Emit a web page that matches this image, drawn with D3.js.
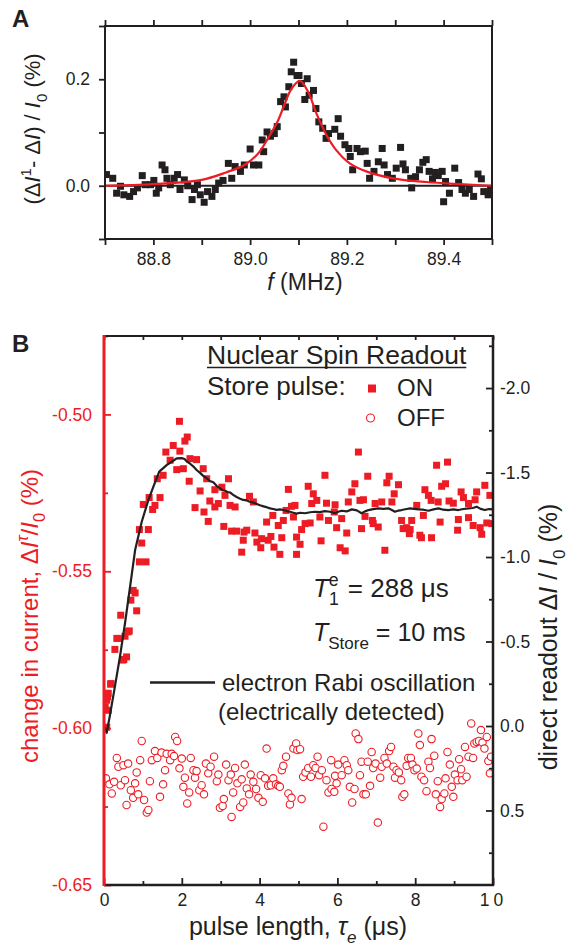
<!DOCTYPE html>
<html>
<head>
<meta charset="utf-8">
<script src="https://cdn.jsdelivr.net/npm/d3@7"></script>
<style>
body{margin:0;background:#fff;}
svg text{font-family:"Liberation Sans",Arial,Helvetica,sans-serif;fill:#231f20;}
.axis .domain{display:none;}
</style>
</head>
<body>
<div id="chart"></div>
<script>
// ---- panel A: ESR-detected NMR line, f (MHz) vs signal (%)
var nmrPoints = [
[88.703,0.021],[88.716,0.014],[88.724,-0.014],[88.732,-0.001],[88.739,-0.017],[88.751,-0.020],[88.759,-0.011],[88.767,-0.004],
[88.777,0.019],[88.783,0.002],[88.794,0.002],[88.801,0.010],[88.806,-0.014],[88.811,-0.004],[88.818,0.039],[88.824,0.030],
[88.828,0.014],[88.835,0.002],[88.843,0.014],[88.850,0.021],[88.855,-0.007],[88.864,0.011],[88.871,0.000],[88.880,-0.026],
[88.885,-0.007],[88.891,0.002],[88.897,-0.017],[88.905,-0.031],[88.912,-0.011],[88.921,-0.020],[88.928,-0.007],[88.935,0.005],
[88.944,0.010],[88.955,0.042],[88.962,0.014],[88.969,0.036],[88.980,0.027],[88.988,0.039],[89.000,0.069],[89.007,0.039],
[89.018,0.039],[89.025,0.086],[89.028,0.064],[89.035,0.101],[89.042,0.093],[89.050,0.098],[89.056,0.111],[89.063,0.158],
[89.070,0.167],[89.073,0.148],[89.080,0.186],[89.085,0.214],[89.090,0.232],[89.097,0.207],[89.101,0.207],[89.106,0.192],
[89.118,0.201],[89.113,0.162],[89.122,0.170],[89.131,0.179],[89.136,0.145],[89.142,0.120],[89.150,0.108],[89.157,0.089],
[89.162,0.098],[89.175,0.106],[89.182,0.126],[89.187,0.093],[89.196,0.077],[89.204,0.070],[89.207,0.055],[89.221,0.070],
[89.228,0.064],[89.238,0.065],[89.212,0.030],[89.242,0.042],[89.247,0.014],[89.256,0.027],[89.265,0.045],[89.273,0.070],
[89.277,0.039],[89.284,0.021],[89.294,0.014],[89.302,0.033],[89.311,0.072],[89.316,0.041],[89.321,0.030],[89.332,0.014],
[89.334,-0.004],[89.342,0.017],[89.350,0.030],[89.357,0.044],[89.364,0.049],[89.370,0.027],[89.377,0.013],[89.383,0.025],
[89.389,0.019],[89.397,0.027],[89.404,0.008],[89.412,-0.014],[89.400,-0.030],[89.423,0.033],[89.431,0.006],[89.438,-0.007],
[89.445,-0.014],[89.453,-0.007],[89.462,-0.020],[89.471,0.022],[89.478,0.013],[89.483,-0.011],[89.492,-0.017],[89.497,-0.007]
];
// red fit curve
var nmrFit = [
[88.70,0.000],[88.80,0.003],[88.90,0.011],[88.95,0.025],[88.99,0.040],[89.017,0.061],[89.037,0.089],[89.058,0.123],
[89.072,0.155],[89.086,0.183],[89.103,0.197],[89.120,0.176],[89.137,0.136],[89.158,0.095],[89.178,0.067],[89.206,0.042],
[89.240,0.027],[89.295,0.014],[89.364,0.007],[89.433,0.003],[89.500,0.000]
];
var aXTicks = [88.8, 89.0, 89.2, 89.4];
var aXMinor = [88.7, 88.9, 89.1, 89.3, 89.5];
var aYTicks = [0.0, 0.2];
var aYMinor = [-0.1, 0.1, 0.3];

// ---- panel B: nuclear spin readout vs pulse length (us)
// store pulse ON, left axis (%)
var storeOn = [
[1.94,-0.5022],[2.14,-0.5072],[2.08,-0.5085],[1.78,-0.5099],[1.59,-0.5120],[1.95,-0.5117],[1.70,-0.5146],[1.87,-0.5176],
[2.04,-0.5173],[2.21,-0.5141],[2.38,-0.5144],[2.55,-0.5173],[1.52,-0.5194],[1.37,-0.5205],[2.19,-0.5213],[2.64,-0.5205],
[3.20,-0.5205],[2.47,-0.5244],[2.85,-0.5240],[3.03,-0.5232],[3.11,-0.5258],[4.74,-0.5239],[1.44,-0.5265],[1.16,-0.5265],
[1.01,-0.5287],[1.31,-0.5290],[1.25,-0.5303],[2.34,-0.5297],[2.72,-0.5276],[2.85,-0.5295],[2.94,-0.5284],[2.57,-0.5311],
[2.68,-0.5341],[3.24,-0.5290],[3.37,-0.5295],[3.74,-0.5261],[3.84,-0.5279],[4.18,-0.5343],[4.34,-0.5322],[4.48,-0.5354],
[4.61,-0.5338],[4.82,-0.5293],[4.68,-0.5306],[4.87,-0.5327],[3.08,-0.5357],[3.28,-0.5372],[3.41,-0.5372],[3.60,-0.5375],
[3.67,-0.5369],[3.88,-0.5378],[3.58,-0.5401],[3.93,-0.5407],[4.05,-0.5396],[4.29,-0.5389],[4.22,-0.5401],[4.57,-0.5393],
[4.03,-0.5425],[4.37,-0.5423],[4.52,-0.5446],[3.54,-0.5439],[4.95,-0.5446],[4.95,-0.5391],[1.14,-0.5367],[0.91,-0.5367],
[0.97,-0.5410],[0.91,-0.5470],[1.08,-0.5470],[0.75,-0.5561],[0.80,-0.5569],[0.69,-0.5592],[0.84,-0.5626],[0.43,-0.5640],
[0.65,-0.5690],[0.54,-0.5707],[0.37,-0.5714],[0.28,-0.5749],[0.58,-0.5773],[0.48,-0.5783],[0.17,-0.5860],[0.05,-0.5889],
[0.09,-0.5900],[0.03,-0.5932],[0.11,-0.5943],[0.07,-0.5997],[0.62,-0.5693],[0.33,-0.5714],[0.51,-0.5781],[0.18,-0.5858],
[0.11,-0.5889],[0.07,-0.5911],
[6.54,-0.5120],[8.55,-0.5162],[8.83,-0.5152],[5.68,-0.5194],[6.78,-0.5197],[7.33,-0.5197],[5.25,-0.5229],[6.45,-0.5221],
[6.37,-0.5247],[7.27,-0.5218],[7.57,-0.5224],[8.68,-0.5229],[8.78,-0.5221],[9.79,-0.5226],[5.38,-0.5253],[5.47,-0.5274],
[5.34,-0.5284],[5.72,-0.5283],[5.94,-0.5288],[6.28,-0.5279],[6.58,-0.5274],[6.67,-0.5272],[6.97,-0.5284],[7.14,-0.5279],
[7.40,-0.5279],[7.46,-0.5253],[8.25,-0.5240],[8.34,-0.5258],[8.41,-0.5274],[8.59,-0.5279],[8.87,-0.5276],[8.98,-0.5283],
[9.18,-0.5247],[9.24,-0.5265],[9.37,-0.5284],[9.58,-0.5247],[9.54,-0.5272],[9.92,-0.5258],[4.91,-0.5290],[5.92,-0.5311],
[8.04,-0.5290],[8.21,-0.5322],[5.55,-0.5327],[5.77,-0.5338],[5.30,-0.5346],[6.11,-0.5332],[6.71,-0.5325],[6.90,-0.5338],
[6.92,-0.5348],[7.65,-0.5338],[7.91,-0.5338],[7.78,-0.5361],[7.69,-0.5364],[7.87,-0.5367],[8.64,-0.5343],[9.11,-0.5335],
[9.37,-0.5329],[9.84,-0.5346],[9.49,-0.5354],[9.67,-0.5361],[5.17,-0.5348],[5.08,-0.5367],[5.98,-0.5361],[6.62,-0.5364],
[7.05,-0.5359],[6.24,-0.5378],[7.85,-0.5380],[8.12,-0.5385],[8.16,-0.5393],[8.42,-0.5393],[9.09,-0.5369],[9.71,-0.5382],
[5.04,-0.5414],[5.58,-0.5403],[6.07,-0.5425],[6.20,-0.5435],[7.22,-0.5433],[9.97,-0.5348]
];
// store pulse OFF, left axis (%)
var storeOff = [
[0.05,-0.6160],[0.14,-0.6179],[0.20,-0.6208],[0.26,-0.6171],[0.33,-0.6095],[0.37,-0.6123],[0.43,-0.6182],[0.50,-0.6118],
[0.54,-0.6166],[0.62,-0.6113],[0.58,-0.6245],[0.69,-0.6198],[0.75,-0.6222],[0.80,-0.6176],[0.84,-0.6141],[0.88,-0.6211],
[0.93,-0.6102],[0.97,-0.6041],[1.03,-0.6229],[1.10,-0.6269],[1.14,-0.6261],[1.18,-0.6169],[1.23,-0.6102],[1.31,-0.6073],
[1.37,-0.6095],[1.44,-0.6219],[1.48,-0.6078],[1.52,-0.6179],[1.57,-0.6134],[1.61,-0.6082],[1.70,-0.6102],[1.74,-0.6082],
[1.80,-0.6089],[1.83,-0.6028],[1.88,-0.6041],[1.94,-0.6128],[2.00,-0.6097],[2.04,-0.6187],[2.08,-0.6158],[2.14,-0.6240],
[2.19,-0.6205],[2.23,-0.6095],[2.30,-0.6134],[2.34,-0.6158],[2.38,-0.6137],[2.45,-0.6198],[2.51,-0.6182],[2.57,-0.6211],
[2.62,-0.6113],[2.68,-0.6144],[2.74,-0.6123],[2.83,-0.6091],[2.90,-0.6169],[2.94,-0.6148],[2.98,-0.6254],[3.05,-0.6248],
[3.08,-0.6226],[3.14,-0.6116],[3.20,-0.6166],[3.26,-0.6148],[3.28,-0.6283],[3.32,-0.6205],[3.37,-0.6127],[3.43,-0.6176],
[3.50,-0.6251],[3.54,-0.6163],[3.58,-0.6237],[3.62,-0.6116],[3.67,-0.6192],[3.73,-0.6211],[3.77,-0.6148],[3.84,-0.6171],
[3.91,-0.6194],[3.97,-0.6222],[4.03,-0.6150],[4.08,-0.6235],[4.14,-0.6160],[4.18,-0.6065],[4.22,-0.6184],[4.29,-0.6182],
[4.35,-0.6160],[4.42,-0.6179],[4.48,-0.6184],[4.52,-0.6187],[4.57,-0.6134],[4.61,-0.6120],[4.68,-0.6091],[4.74,-0.6208],
[4.78,-0.6243],[4.82,-0.6222],[4.87,-0.6065],[4.94,-0.6049],[4.97,-0.6070],
[5.04,-0.6067],[5.08,-0.6226],[5.12,-0.6155],[5.18,-0.6141],[5.25,-0.6127],[5.32,-0.6155],[5.38,-0.6118],[5.44,-0.6127],
[5.49,-0.6091],[5.53,-0.6150],[5.60,-0.6134],[5.64,-0.6314],[5.72,-0.6166],[5.77,-0.6205],[5.84,-0.6102],[5.85,-0.6194],
[5.92,-0.6203],[5.94,-0.6152],[5.98,-0.6176],[6.02,-0.6116],[6.11,-0.6150],[6.18,-0.6102],[6.24,-0.6118],[6.28,-0.6134],
[6.32,-0.6187],[6.38,-0.6237],[6.44,-0.6194],[6.47,-0.6017],[6.54,-0.6035],[6.58,-0.6150],[6.62,-0.6107],[6.67,-0.6211],
[6.73,-0.6211],[6.78,-0.6107],[6.84,-0.6184],[6.88,-0.6076],[6.92,-0.6127],[6.98,-0.6113],[7.04,-0.6301],[7.10,-0.6158],
[7.14,-0.6123],[7.21,-0.6095],[7.27,-0.6113],[7.33,-0.6073],[7.38,-0.6060],[7.44,-0.6123],[7.48,-0.6158],[7.52,-0.6134],
[7.58,-0.6141],[7.64,-0.6166],[7.67,-0.6219],[7.72,-0.6211],[7.78,-0.6120],[7.82,-0.6095],[7.89,-0.6095],[7.93,-0.6116],
[7.98,-0.6134],[8.04,-0.6129],[8.08,-0.6017],[8.12,-0.6054],[8.16,-0.6155],[8.23,-0.6166],[8.29,-0.6201],[8.34,-0.6107],
[8.38,-0.6127],[8.42,-0.6035],[8.49,-0.6088],[8.53,-0.6211],[8.58,-0.6169],[8.64,-0.6251],[8.68,-0.6226],[8.75,-0.6208],
[8.78,-0.6160],[8.83,-0.6076],[8.89,-0.6116],[8.94,-0.6187],[8.98,-0.6219],[9.02,-0.6148],[9.09,-0.6166],[9.13,-0.6099],
[9.18,-0.6131],[9.21,-0.6166],[9.28,-0.6060],[9.32,-0.6155],[9.37,-0.6091],[9.44,-0.5985],[9.49,-0.6095],[9.52,-0.6049],
[9.58,-0.6044],[9.64,-0.6041],[9.69,-0.6006],[9.73,-0.6046],[9.78,-0.6065],[9.84,-0.6028],[9.88,-0.6105],[9.92,-0.6144],
[9.95,-0.6091]
];
// electron Rabi oscillation, right axis (%)
var rabiLine = [
[0.00,0.000],[0.07,0.040],[0.15,-0.060],[0.28,-0.233],[0.41,-0.410],[0.54,-0.608],[0.67,-0.824],[0.80,-1.041],
[0.97,-1.209],[1.14,-1.337],[1.27,-1.416],[1.42,-1.505],[1.61,-1.544],[1.74,-1.564],[1.87,-1.584],
[2.00,-1.585],[2.07,-1.580],[2.13,-1.565],[2.20,-1.555],[2.30,-1.535],[2.38,-1.515],[2.47,-1.498],[2.55,-1.480],
[2.64,-1.466],[2.72,-1.450],[2.81,-1.442],[2.90,-1.420],[2.98,-1.408],[3.05,-1.395],[3.11,-1.392],[3.18,-1.385],
[3.24,-1.382],[3.32,-1.368],[3.41,-1.355],[3.50,-1.345],[3.58,-1.338],[3.67,-1.335],[3.75,-1.327],[3.84,-1.322],
[3.93,-1.314],[4.01,-1.306],[4.10,-1.300],[4.18,-1.295],[4.27,-1.288],[4.35,-1.284],[4.44,-1.279],[4.52,-1.282],
[4.61,-1.278],[4.70,-1.272],[4.78,-1.268],[4.87,-1.262],[4.95,-1.257],[5.04,-1.262],[5.17,-1.259],[5.30,-1.265],
[5.42,-1.268],[5.55,-1.266],[5.68,-1.272],[5.81,-1.268],[5.94,-1.259],[6.02,-1.268],[6.11,-1.274],[6.24,-1.270],
[6.37,-1.282],[6.50,-1.276],[6.62,-1.259],[6.71,-1.270],[6.80,-1.278],[6.92,-1.283],[7.05,-1.288],[7.18,-1.285],
[7.31,-1.288],[7.40,-1.278],[7.48,-1.268],[7.57,-1.275],[7.65,-1.278],[7.78,-1.284],[7.87,-1.288],[7.97,-1.285],
[8.08,-1.282],[8.21,-1.280],[8.34,-1.274],[8.47,-1.282],[8.60,-1.288],[8.72,-1.280],[8.85,-1.278],[8.98,-1.282],
[9.11,-1.278],[9.24,-1.284],[9.37,-1.288],[9.48,-1.290],[9.58,-1.298],[9.68,-1.285],[9.79,-1.278],[9.90,-1.284],
[10.0,-1.282]
];
var bXTicks = [0, 2, 4, 6, 8, 10];
var bXMinor = [1, 3, 5, 7, 9];
var bLeftTicks = [-0.65, -0.60, -0.55, -0.50];
var bLeftMinor = [-0.625, -0.575, -0.525, -0.475];
var bRightTicks = [-2.0, -1.5, -1.0, -0.5, 0.0, 0.5];
var bRightMinor = [-2.25, -1.75, -1.25, -0.75, -0.25, 0.25, 0.75];

var red = "#ed1c24", ink = "#231f20";
var tickFont = 17.5, bigFont = 25;

var svg = d3.select("#chart").append("svg")
  .attr("width", 570).attr("height", 948);

// rich text helper: parts = [{t, it, sub, sup}]
function richText(sel, parts, fs) {
  var shift = 0;
  parts.forEach(function(p){
    var ts = sel.append("tspan").text(p.t);
    var target = p.sub ? 0.3*fs : (p.sup ? -0.42*fs : 0);
    if (target !== shift) ts.attr("dy", target - shift);
    shift = target;
    if (p.sub || p.sup) ts.attr("font-size", fs*0.68);
    if (p.it) ts.attr("font-style", "italic");
    if (p.dx) ts.attr("dx", p.dx);
  });
  return sel;
}

function styleAxis(g, color, fs){
  g.attr("class", "axis");
  g.selectAll(".tick line").attr("stroke", color).attr("stroke-width", 1.8);
  g.selectAll(".tick text").attr("font-size", fs).style("fill", color)
    .attr("font-family", "Liberation Sans, Arial, sans-serif");
}

//================ panel A
var xA = d3.scaleLinear().domain([88.7, 89.5]).range([105, 492]);
var yA = d3.scaleLinear().domain([-0.1, 0.3]).range([239, 26]);

var gA = svg.append("g");
gA.append("clipPath").attr("id", "clipA").append("rect")
  .attr("x", 105).attr("y", 26).attr("width", 387).attr("height", 213);

gA.append("g").attr("transform", "translate(0,239)")
  .call(d3.axisBottom(xA).tickValues(aXTicks).tickSize(6).tickPadding(8).tickFormat(d3.format(".1f")))
  .call(styleAxis, ink, tickFont);
gA.append("g").attr("transform", "translate(0,239)")
  .call(d3.axisBottom(xA).tickValues(aXMinor).tickSize(6).tickFormat(""))
  .call(styleAxis, ink, tickFont);
gA.append("g").attr("transform", "translate(0,26)")
  .call(d3.axisTop(xA).tickValues(aXTicks.concat(aXMinor)).tickSize(6).tickFormat(""))
  .call(styleAxis, ink, tickFont);
gA.append("g").attr("transform", "translate(105,0)")
  .call(d3.axisLeft(yA).tickValues(aYTicks).tickSize(6).tickPadding(9).tickFormat(d3.format(".1f")))
  .call(styleAxis, ink, tickFont);
gA.append("g").attr("transform", "translate(105,0)")
  .call(d3.axisLeft(yA).tickValues(aYMinor).tickSize(6).tickFormat(""))
  .call(styleAxis, ink, tickFont);

// zero line
gA.append("line").attr("x1", xA.range()[0]).attr("x2", xA.range()[1])
  .attr("y1", yA(0)).attr("y2", yA(0)).attr("stroke", ink).attr("stroke-width", 1.8);

gA.append("g").attr("clip-path", "url(#clipA)")
  .selectAll("rect").data(nmrPoints).enter().append("rect")
  .attr("x", d => xA(d[0]) - 3.5).attr("y", d => yA(d[1]) - 3.5)
  .attr("width", 7).attr("height", 7).attr("fill", ink);

gA.append("path").datum(nmrFit)
  .attr("d", d3.line().x(d => xA(d[0])).y(d => yA(d[1])).curve(d3.curveCatmullRom))
  .attr("fill", "none").attr("stroke", red).attr("stroke-width", 2.2);

gA.append("rect").attr("x", 105).attr("y", 26).attr("width", 387).attr("height", 213)
  .attr("fill", "none").attr("stroke", ink).attr("stroke-width", 2);

svg.append("text").attr("x", 12).attr("y", 27).attr("font-size", 24).attr("font-weight", "bold").text("A");

svg.append("text").attr("text-anchor", "middle").attr("x", 305).attr("y", 290).attr("font-size", 23)
  .call(richText, [{t:"f", it:true}, {t:" (MHz)"}], 23);

svg.append("text").attr("text-anchor", "middle").attr("font-size", 22)
  .attr("transform", "translate(40,129) rotate(-90)")
  .call(richText, [{t:"(Δ"}, {t:"I", it:true}, {t:"1", sup:true}, {t:"- Δ"}, {t:"I", it:true},
                   {t:") / "}, {t:"I", it:true}, {t:"0", sub:true}, {t:" (%)"}], 22);

//================ panel B
var xB = d3.scaleLinear().domain([0, 10]).range([104, 493]);
var yL = d3.scaleLinear().domain([-0.65, -0.475]).range([885, 336]);
var yR = d3.scaleLinear().domain([0.941, -2.308]).range([885, 336]);

var gB = svg.append("g");
gB.append("clipPath").attr("id", "clipB").append("rect")
  .attr("x", 104).attr("y", 336).attr("width", 389).attr("height", 549);

gB.append("g").attr("transform", "translate(0,885)")
  .call(d3.axisBottom(xB).tickValues(bXTicks).tickSize(-7).tickPadding(9).tickFormat(d3.format("d")))
  .call(styleAxis, ink, tickFont);
gB.append("g").attr("transform", "translate(0,885)")
  .call(d3.axisBottom(xB).tickValues(bXMinor).tickSize(-4).tickFormat(""))
  .call(styleAxis, ink, tickFont);
gB.append("g").attr("transform", "translate(0,336)")
  .call(d3.axisTop(xB).tickValues(bXTicks.concat(bXMinor)).tickSize(-4).tickFormat(""))
  .call(styleAxis, ink, tickFont);
gB.selectAll(".tick text").filter(d => d === 10).attr("letter-spacing", 4);

gB.append("g").attr("transform", "translate(104,0)")
  .call(d3.axisLeft(yL).tickValues(bLeftTicks).tickSize(-7).tickPadding(12).tickFormat(d => d.toFixed(2)))
  .call(styleAxis, red, tickFont);
gB.append("g").attr("transform", "translate(104,0)")
  .call(d3.axisLeft(yL).tickValues(bLeftMinor).tickSize(-4).tickFormat(""))
  .call(styleAxis, red, tickFont);

gB.append("g").attr("transform", "translate(493,0)")
  .call(d3.axisRight(yR).tickValues(bRightTicks).tickSize(-7).tickPadding(7).tickFormat(d => d.toFixed(1)))
  .call(styleAxis, ink, tickFont);
gB.append("g").attr("transform", "translate(493,0)")
  .call(d3.axisRight(yR).tickValues(bRightMinor).tickSize(-4).tickFormat(""))
  .call(styleAxis, ink, tickFont);

var plotB = gB.append("g").attr("clip-path", "url(#clipB)");

plotB.append("g").selectAll("circle").data(storeOff).enter().append("circle")
  .attr("cx", d => xB(d[0])).attr("cy", d => yL(d[1])).attr("r", 3.7)
  .attr("fill", "#fff").attr("stroke", red).attr("stroke-width", 1.1);

plotB.append("g").selectAll("rect").data(storeOn).enter().append("rect")
  .attr("x", d => xB(d[0]) - 3.5).attr("y", d => yL(d[1]) - 3.5)
  .attr("width", 7).attr("height", 7).attr("fill", red);

plotB.append("path").datum(rabiLine)
  .attr("d", d3.line().x(d => xB(d[0])).y(d => yR(d[1])))
  .attr("fill", "none").attr("stroke", ink).attr("stroke-width", 2.2).attr("stroke-linejoin", "round");

// frame
gB.append("line").attr("x1", 104).attr("x2", 493).attr("y1", 336).attr("y2", 336).attr("stroke", ink).attr("stroke-width", 2);
gB.append("line").attr("x1", 104).attr("x2", 494).attr("y1", 885).attr("y2", 885).attr("stroke", ink).attr("stroke-width", 2.5);
gB.append("line").attr("x1", 493).attr("x2", 493).attr("y1", 335).attr("y2", 886).attr("stroke", ink).attr("stroke-width", 2.5);
gB.append("line").attr("x1", 104).attr("x2", 104).attr("y1", 335).attr("y2", 886).attr("stroke", red).attr("stroke-width", 3);

svg.append("text").attr("x", 12).attr("y", 352).attr("font-size", 24).attr("font-weight", "bold").text("B");

// legend & annotations
var title = svg.append("text").attr("x", 207).attr("y", 364).attr("font-size", 26.5).text("Nuclear Spin Readout");
var tw = title.node().getComputedTextLength();
svg.append("line").attr("x1", 207).attr("x2", 207 + tw).attr("y1", 367.5).attr("y2", 367.5)
  .attr("stroke", ink).attr("stroke-width", 1.5);

svg.append("text").attr("x", 207).attr("y", 395).attr("font-size", 26).text("Store pulse:");
svg.append("rect").attr("x", 368).attr("y", 384.5).attr("width", 8).attr("height", 8).attr("fill", red);
svg.append("text").attr("x", 397).attr("y", 396).attr("font-size", 24).text("ON");
svg.append("circle").attr("cx", 370.5).attr("cy", 418).attr("r", 4).attr("fill", "#fff")
  .attr("stroke", red).attr("stroke-width", 1.1);
svg.append("text").attr("x", 397).attr("y", 426).attr("font-size", 24).text("OFF");

svg.append("text").attr("x", 313).attr("y", 597).attr("font-size", 26)
  .call(richText, [{t:"T", it:true}, {t:"1", sub:true}, {t:"e", sup:true, dx:-10}, {t:" = 288 μs", dx:2}], 26);
svg.append("text").attr("x", 313).attr("y", 641).attr("font-size", 25)
  .call(richText, [{t:"T", it:true}, {t:"Store", sub:true}, {t:" = 10 ms"}], 25);

svg.append("line").attr("x1", 150).attr("x2", 215).attr("y1", 682.5).attr("y2", 682.5)
  .attr("stroke", ink).attr("stroke-width", 2.5);
svg.append("text").attr("x", 222).attr("y", 691).attr("font-size", 24).text("electron Rabi oscillation");
svg.append("text").attr("x", 218).attr("y", 720).attr("font-size", 24).text("(electrically detected)");

// axis titles
svg.append("text").attr("text-anchor", "middle").attr("x", 298).attr("y", 935).attr("font-size", 25)
  .call(richText, [{t:"pulse length, "}, {t:"τ", it:true}, {t:"e", sub:true, it:true}, {t:" (μs)"}], 25);

svg.append("text").attr("text-anchor", "middle").attr("font-size", 24).style("fill", red)
  .attr("transform", "translate(38,616) rotate(-90)")
  .call(richText, [{t:"change in current, Δ"}, {t:"I", it:true}, {t:"τ", sup:true, it:true}, {t:"/"},
                   {t:"I", it:true}, {t:"0", sub:true}, {t:" (%)"}], 24);

svg.append("text").attr("text-anchor", "middle").attr("font-size", bigFont)
  .attr("transform", "translate(557,637) rotate(-90)")
  .call(richText, [{t:"direct readout Δ"}, {t:"I", it:true}, {t:" / "}, {t:"I", it:true},
                   {t:"0", sub:true}, {t:" (%)"}], bigFont);
</script>
</body>
</html>
